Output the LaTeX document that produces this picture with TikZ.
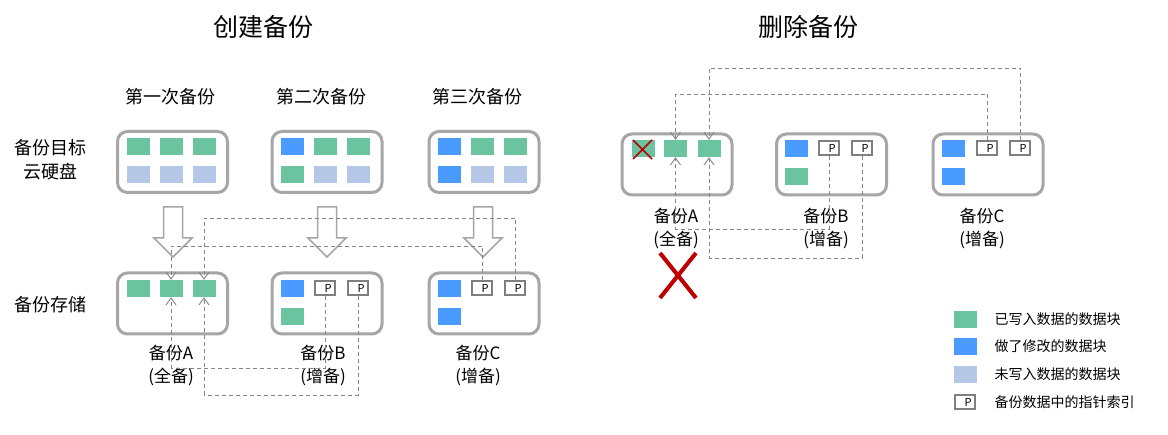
\documentclass[tikz,border=0pt]{standalone}
\usepackage{fontspec}
\setmainfont{Noto Sans CJK SC}
\usetikzlibrary{arrows.meta}
\definecolor{cgreen}{HTML}{6AC4A0}
\definecolor{cblue}{HTML}{4A9BFF}
\definecolor{clight}{HTML}{B4C7E7}
\definecolor{cbox}{HTML}{A6A6A6}
\definecolor{cpbox}{HTML}{7F7F7F}
\definecolor{cdash}{HTML}{858585}
\definecolor{cred}{HTML}{C00000}
\tikzset{
  bigbox/.style={draw=cbox, line width=3pt, rounded corners=10pt, minimum width=110pt, minimum height=61pt, inner sep=0pt},
  gsq/.style={fill=cgreen, minimum width=23pt, minimum height=17pt, inner sep=0pt},
  bsq/.style={fill=cblue, minimum width=23pt, minimum height=17pt, inner sep=0pt},
  lsq/.style={fill=clight, minimum width=23pt, minimum height=17pt, inner sep=0pt},
  psq/.style={draw=cpbox, fill=white, line width=2pt, minimum width=20pt, minimum height=14pt, inner sep=0pt, font=\fontsize{11}{11}\selectfont},
  dline/.style={draw=cdash, line width=0.9pt, dash pattern=on 4pt off 3pt, -{Straight Barb[length=7pt,width=10pt,line width=0.9pt]}},
  dlinen/.style={draw=cdash, line width=0.9pt, dash pattern=on 4pt off 3pt},
  hollow/.style={draw=cbox, line width=1.5pt, fill=white},
  ttl/.style={font=\fontsize{25}{30}\selectfont},
  lbl/.style={font=\fontsize{18}{24}\selectfont, align=center},
  clbl/.style={font=\fontsize{17}{23}\selectfont, align=center},
  leg/.style={font=\fontsize{14}{16}\selectfont, anchor=west},
}
\newcommand{\ptxt}{\makebox[13pt][r]{P}}
\begin{document}
\begin{tikzpicture}[x=1pt,y=-1pt]
\useasboundingbox[fill=white] (0,0) rectangle (1168,435);

% titles
\node[ttl] (t1) at (263,27) {创建备份};
\node[ttl] (t2) at (808,27) {删除备份};
\node[lbl] (c1) at (170,97) {第一次备份};
\node[lbl] (c2) at (321,97) {第二次备份};
\node[lbl] (c3) at (477,97) {第三次备份};
\node[lbl] (r1) at (51,160) {备份目标\\云硬盘};
\node[lbl] (r2) at (50,305) {备份存储};

% hollow arrows
\foreach \cx in {173,327,483}{
  \draw[hollow] (\cx-9.5,207) -- (\cx+9.5,207) -- (\cx+9.5,238) -- (\cx+19,238) -- (\cx,257) -- (\cx-19,238) -- (\cx-9.5,238) -- cycle;
}

% top boxes
\node[bigbox] (T1) at (172.5,162) {};
\node[bigbox] (T2) at (327,162) {};
\node[bigbox] (T3) at (484,162) {};
\node[gsq] (T1a) at (138,146.5) {};
\node[gsq] (T1b) at (171,146.5) {};
\node[gsq] (T1c) at (204,146.5) {};
\node[lsq] (T1d) at (138,174.5) {};
\node[lsq] (T1e) at (171,174.5) {};
\node[lsq] (T1f) at (204,174.5) {};
\node[bsq] (T2a) at (292,146.5) {};
\node[gsq] (T2b) at (325,146.5) {};
\node[gsq] (T2c) at (358,146.5) {};
\node[gsq] (T2d) at (292,174.5) {};
\node[lsq] (T2e) at (325,174.5) {};
\node[lsq] (T2f) at (358,174.5) {};
\node[bsq] (T3a) at (449,146.5) {};
\node[gsq] (T3b) at (482,146.5) {};
\node[gsq] (T3c) at (515,146.5) {};
\node[bsq] (T3d) at (449,174.5) {};
\node[lsq] (T3e) at (482,174.5) {};
\node[lsq] (T3f) at (515,174.5) {};

% bottom boxes
\node[bigbox] (B1) at (172.5,303.5) {};
\node[bigbox] (B2) at (327,303.5) {};
\node[bigbox] (B3) at (484,303.5) {};
\node[gsq] (B1a) at (138,288.5) {};
\node[gsq] (B1b) at (171,288.5) {};
\node[gsq] (B1c) at (204,288.5) {};
\node[bsq] (B2a) at (292,288.5) {};
\node[psq] (B2b) at (325,288.5) {\ptxt};
\node[psq] (B2c) at (358,288.5) {\ptxt};
\node[gsq] (B2d) at (292,316.5) {};
\node[bsq] (B3a) at (449,288.5) {};
\node[psq] (B3b) at (482,288.5) {\ptxt};
\node[psq] (B3c) at (515,288.5) {\ptxt};
\node[bsq] (B3d) at (449,316.5) {};

\node[clbl] (LA) at (171,366) {备份A\\(全备)};
\node[clbl] (LB) at (323,366) {备份B\\(增备)};
\node[clbl] (LC) at (478,366) {备份C\\(增备)};

% left dashed connectors
\draw[dline] (B3b.north) -- (B3b.north |- 0,246) -| (B1b.north);
\draw[dline] (B3c.north) -- (B3c.north |- 0,218) -| (B1c.north);
\draw[dline] (B2b.south) -- (B2b.south |- 0,368) -| (B1b.south);
\draw[dline] (B2c.south) -- (B2c.south |- 0,395) -| (B1c.south);

% right boxes
\node[bigbox] (R1) at (677,164.5) {};
\node[bigbox] (R2) at (831.5,164.5) {};
\node[bigbox] (R3) at (988,164.5) {};
\node[gsq] (R1a) at (643,148.5) {};
\node[gsq] (R1b) at (675.5,148.5) {};
\node[gsq] (R1c) at (709,148.5) {};
\node[bsq] (R2a) at (796,148.5) {};
\node[psq] (R2b) at (829,148.5) {\ptxt};
\node[psq] (R2c) at (862,148.5) {\ptxt};
\node[gsq] (R2d) at (796.5,176.5) {};
\node[bsq] (R3a) at (953.5,148.5) {};
\node[psq] (R3b) at (987,148.5) {\ptxt};
\node[psq] (R3c) at (1020,148.5) {\ptxt};
\node[bsq] (R3d) at (953.5,176.5) {};

\node[clbl] (RA) at (676,229) {备份A\\(全备)};
\node[clbl] (RB) at (826,229) {备份B\\(增备)};
\node[clbl] (RC) at (982,229) {备份C\\(增备)};

% right dashed connectors
\draw[dline] (R3b.north) -- (R3b.north |- 0,94) -| (R1b.north);
\draw[dline] (R3c.north) -- (R3c.north |- 0,68) -| (R1c.north);
\draw[dline] (R2b.south) -- (R2b.south |- 0,229) -| (R1b.south);
\draw[dline] (R2c.south) -- (R2c.south |- 0,258) -| (R1c.south);

% red crosses
\draw[cred, line width=1.6pt] (633,140) -- (652,159) (652,140) -- (633,159);
\draw[cred, line width=4pt] (660,253) -- (696,298) (696,253) -- (660,298);

% legend
\node[gsq] (G1) at (965,319.5) {};
\node[bsq] (G2) at (965,346.5) {};
\node[lsq] (G3) at (965,374.5) {};
\node[psq] (G4) at (965,402.5) {\ptxt};
\node[leg] (GT1) at (991,319.5) {已写入数据的数据块};
\node[leg] (GT2) at (991,346.5) {做了修改的数据块};
\node[leg] (GT3) at (991,374.5) {未写入数据的数据块};
\node[leg] (GT4) at (991,402.5) {备份数据中的指针索引};
\end{tikzpicture}
\end{document}
